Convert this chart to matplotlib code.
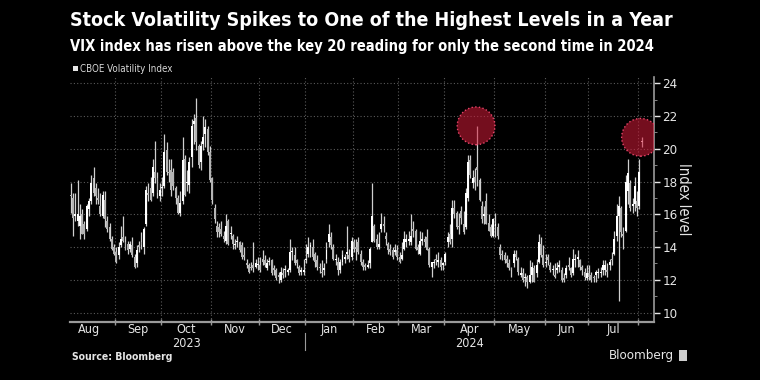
"""
VIX daily candles, Aug 2023 - Aug 2024 (Bloomberg style, black background)
"""
import numpy as np
import pandas as pd
import matplotlib
matplotlib.use('Agg')
import matplotlib.pyplot as plt
import matplotlib.transforms as mtransforms
from matplotlib.patches import Rectangle
from matplotlib.ticker import FixedLocator, MultipleLocator

plt.rcParams['font.family'] = ['DejaVu Sans']
plt.rcParams['font.stretch'] = 'condensed'

### Trading calendar (NYSE holidays in the span)
holidays = ['2023-09-04', '2023-11-23', '2023-12-25', '2024-01-01', '2024-01-15',
            '2024-02-19', '2024-03-29', '2024-05-27', '2024-06-19', '2024-07-04']
first_day = '2023-08-04'
highlight_days = ['2024-04-19', '2024-08-02']

### Daily OHLC, one row per month (Aug 4 2023 .. Aug 2 2024)
vix_open = [
    17.2, 17.0, 15.9, 15.6, 15.3, 16.0, 15.4, 15.1, 16.3, 16.8, 18.2, 17.6, 17.0, 16.5, 15.9, 16.9, 15.6, 15.2, 14.5, 14.0,
    13.7, 13.5, 14.1, 14.6, 14.3, 14.2, 13.9, 14.1, 13.4, 13.0, 14.1, 14.3, 14.0, 15.4, 17.3, 17.6, 17.3, 18.6, 18.2, 17.1,
    17.6, 17.7, 19.9, 18.6, 18.7, 18.6, 17.6, 17.0, 16.1, 16.8, 19.4, 17.9, 17.8, 19.5, 21.5, 21.9, 20.2, 19.2, 20.3, 20.9, 21.2, 19.8,
    18.2, 16.4, 15.3, 15.2, 15.1, 14.7, 14.4, 15.6, 14.8, 14.7, 14.1, 14.3, 14.3, 14.1, 13.5, 13.0, 12.9, 12.8, 12.9, 12.8, 12.9,
    12.9, 13.3, 13.2, 12.7, 13.1, 13.2, 12.7, 12.6, 12.3, 12.0, 12.4, 12.6, 12.5, 12.6, 13.7, 13.5, 13.2, 12.8, 12.5, 12.5,
    13.2, 13.6, 14.0, 14.0, 13.6, 13.2, 12.8, 12.5, 12.6, 13.3, 14.3, 14.6, 14.0, 13.2, 13.1, 12.6, 13.1, 13.3, 13.6, 13.5, 13.4,
    14.3, 14.0, 14.3, 13.6, 13.1, 12.9, 12.8, 13.0, 14.3, 15.3, 14.5, 14.0, 15.1, 15.4, 14.7, 14.2, 13.9, 13.8, 13.7, 13.8,
    13.4, 13.3, 13.9, 14.3, 14.4, 14.3, 15.1, 15.0, 14.0, 13.6, 14.4, 14.5, 14.6, 13.9, 12.8, 13.0, 13.3, 13.1, 13.2, 12.9,
    13.1, 14.3, 14.8, 14.5, 16.4, 16.1, 15.3, 16.2, 15.4, 15.2, 17.0, 19.3, 17.9, 18.3, 18.9, 18.1, 16.5, 15.9, 16.8, 15.5, 15.2, 14.7,
    15.3, 15.2, 14.0, 13.6, 13.5, 13.3, 13.0, 12.7, 13.0, 13.6, 13.3, 12.3, 12.4, 12.1, 12.2, 11.9, 12.3, 12.7, 12.4, 13.1, 14.2, 13.5,
    13.0, 13.4, 12.9, 12.6, 12.3, 12.6, 12.8, 12.6, 12.1, 12.3, 12.9, 12.7, 12.4, 13.2, 13.3, 13.2, 12.8, 12.5, 12.1,
    12.4, 12.3, 12.2, 12.3, 12.4, 12.4, 12.6, 12.6, 12.6, 12.9, 13.3, 13.6, 14.7, 15.9, 16.4, 14.8, 15.0, 17.4, 17.9, 16.5, 16.6, 16.8,
    16.5, 20.4]
vix_high = [
    17.9, 17.3, 17.3, 18.1, 16.6, 16.3, 15.6, 16.6, 17.0, 18.4, 18.9, 17.9, 17.6, 17.3, 17.4, 17.4, 15.9, 15.5, 14.7, 14.2,
    14.0, 14.3, 15.3, 15.9, 14.7, 14.4, 14.4, 14.6, 13.6, 14.1, 14.4, 14.9, 15.2, 17.7, 17.9, 18.3, 19.4, 20.5, 18.6, 17.9,
    18.3, 20.9, 20.4, 19.4, 19.4, 18.8, 17.7, 17.2, 17.4, 20.7, 19.6, 18.7, 19.5, 21.8, 22.1, 23.1, 20.3, 20.5, 22.0, 21.8, 21.4, 20.2,
    18.3, 16.6, 15.6, 15.5, 15.6, 15.0, 16.0, 15.7, 15.3, 14.8, 14.5, 14.7, 14.4, 14.3, 14.0, 13.3, 13.0, 13.1, 14.3, 13.3, 13.4,
    13.4, 13.8, 13.5, 13.3, 13.4, 13.3, 12.9, 12.7, 12.5, 12.8, 12.7, 12.9, 12.7, 14.5, 14.0, 14.0, 13.3, 12.9, 12.8, 13.3,
    14.2, 14.6, 14.3, 14.5, 13.7, 13.5, 13.0, 13.2, 13.0, 14.3, 15.4, 14.9, 14.2, 13.6, 13.4, 13.3, 13.8, 13.6, 15.3, 13.9, 14.6,
    14.5, 14.5, 14.6, 13.8, 13.3, 13.0, 13.2, 14.0, 17.9, 15.4, 14.8, 14.9, 16.1, 15.9, 14.9, 14.3, 14.2, 14.0, 14.2, 14.1,
    13.7, 14.3, 15.0, 14.8, 15.0, 16.0, 15.6, 15.1, 14.2, 15.0, 14.9, 14.7, 15.1, 14.0, 13.1, 13.3, 13.6, 13.7, 13.4, 13.1,
    13.7, 14.9, 15.4, 16.9, 16.9, 16.2, 16.1, 16.5, 16.2, 17.6, 19.6, 19.6, 18.7, 18.8, 21.4, 18.2, 16.8, 16.5, 17.3, 16.0, 15.4, 15.8,
    16.1, 15.5, 14.2, 13.8, 13.7, 13.5, 13.3, 12.8, 13.8, 13.8, 13.4, 12.8, 12.7, 12.4, 12.3, 13.2, 13.1, 12.9, 13.3, 14.8, 14.6, 14.1,
    13.6, 13.6, 13.1, 12.9, 13.0, 13.1, 13.2, 12.8, 12.4, 12.9, 13.4, 12.8, 13.9, 13.6, 13.8, 13.3, 12.9, 12.7, 12.9,
    12.9, 12.5, 12.3, 12.6, 12.7, 12.8, 13.2, 13.2, 13.0, 13.3, 13.7, 15.0, 16.6, 17.1, 16.5, 15.2, 18.4, 19.4, 18.1, 17.0, 18.3, 17.4,
    19.4, 20.7]
vix_low = [
    16.1, 14.7, 15.6, 15.3, 14.5, 14.8, 14.5, 15.0, 15.9, 16.6, 17.1, 16.6, 16.6, 15.9, 15.8, 15.2, 14.9, 14.4, 13.8, 13.5,
    13.0, 13.3, 14.0, 14.3, 13.8, 13.6, 13.7, 13.4, 12.7, 12.8, 13.7, 13.9, 13.6, 15.3, 16.8, 16.8, 17.1, 17.9, 17.0, 16.8,
    17.1, 17.6, 18.4, 18.0, 17.1, 17.5, 16.6, 16.0, 15.9, 16.6, 17.1, 17.4, 17.3, 18.9, 20.3, 19.9, 18.8, 18.7, 19.9, 20.1, 19.6, 18.0,
    16.6, 15.5, 14.6, 14.6, 14.7, 14.3, 14.2, 14.1, 14.5, 13.9, 13.9, 14.0, 13.7, 13.3, 13.2, 12.7, 12.4, 12.6, 12.5, 12.7, 12.6,
    12.5, 12.9, 12.8, 12.6, 12.9, 12.3, 12.3, 12.0, 11.8, 11.9, 12.1, 12.2, 12.3, 12.5, 13.2, 12.9, 12.7, 12.3, 12.3, 12.3,
    13.0, 13.4, 13.4, 13.2, 12.8, 12.6, 12.4, 12.2, 12.3, 13.0, 14.0, 13.9, 13.2, 12.9, 12.3, 12.4, 12.9, 13.0, 13.3, 13.1, 13.2,
    13.7, 13.2, 13.6, 12.9, 12.6, 12.6, 12.7, 12.7, 14.3, 14.3, 13.9, 13.9, 14.9, 14.9, 14.1, 13.6, 13.5, 13.3, 13.5, 13.2,
    13.0, 13.2, 13.8, 14.0, 14.1, 14.1, 14.6, 13.8, 13.6, 13.5, 14.1, 14.0, 13.8, 12.8, 12.2, 12.7, 12.9, 12.8, 12.6, 12.6,
    12.9, 14.0, 14.2, 14.0, 15.8, 15.1, 14.8, 15.4, 14.8, 15.1, 16.8, 18.2, 17.6, 17.5, 17.7, 16.8, 15.5, 15.4, 15.4, 15.0, 14.6, 14.6,
    14.6, 14.5, 13.3, 13.2, 13.0, 12.8, 12.6, 12.2, 12.8, 13.2, 12.3, 12.2, 11.9, 11.6, 11.5, 11.8, 11.9, 11.9, 12.2, 13.0, 13.4, 12.8,
    12.8, 12.9, 12.5, 12.3, 12.1, 12.4, 12.5, 11.9, 11.9, 12.1, 12.6, 12.2, 12.3, 12.8, 12.8, 12.6, 12.3, 12.0, 12.0,
    12.0, 11.9, 11.9, 11.9, 12.1, 12.2, 12.3, 12.3, 12.2, 12.6, 12.9, 13.5, 14.4, 10.7, 14.6, 13.9, 14.9, 16.6, 16.2, 16.1, 16.2, 15.9,
    16.3, 20.1]
vix_close = [
    17.1, 15.8, 16.0, 16.0, 15.9, 14.8, 14.8, 16.5, 16.8, 17.9, 17.3, 17.1, 16.9, 16.0, 17.2, 15.7, 15.1, 14.5, 13.9, 13.6,
    13.1, 14.0, 14.5, 14.4, 13.8, 13.8, 14.2, 13.5, 12.8, 13.8, 14.0, 14.1, 15.1, 17.5, 17.2, 16.9, 18.9, 18.2, 17.3, 17.5,
    17.6, 19.8, 18.6, 18.5, 17.5, 17.7, 17.0, 16.1, 16.7, 19.3, 17.2, 17.9, 19.2, 21.4, 21.7, 20.4, 19.0, 20.2, 20.7, 21.3, 19.8, 18.1,
    16.9, 15.7, 14.9, 14.9, 14.8, 14.5, 15.3, 14.2, 14.8, 14.2, 14.2, 14.3, 13.8, 13.4, 13.4, 12.9, 12.5, 12.7, 12.7, 13.0, 12.9,
    12.6, 13.1, 12.9, 13.0, 13.1, 12.4, 12.6, 12.1, 12.2, 12.5, 12.3, 12.6, 12.5, 13.7, 13.7, 13.0, 13.0, 12.4, 12.5, 12.5,
    13.2, 14.0, 14.1, 13.4, 13.1, 12.8, 12.7, 12.4, 12.7, 13.8, 14.8, 14.1, 13.3, 13.2, 12.6, 13.1, 13.5, 13.3, 13.6, 13.3, 14.4,
    13.9, 13.9, 13.7, 13.1, 12.8, 12.8, 12.9, 13.9, 15.9, 14.4, 14.0, 14.2, 15.4, 15.3, 14.5, 13.8, 13.7, 13.4, 13.8, 13.4,
    13.1, 13.5, 14.5, 14.5, 14.4, 14.7, 15.0, 13.9, 13.8, 14.4, 14.4, 14.3, 13.8, 12.9, 13.1, 13.1, 13.2, 13.2, 12.8, 13.0,
    13.6, 14.6, 14.3, 16.4, 16.0, 15.2, 15.2, 15.8, 14.9, 17.3, 19.2, 18.4, 18.2, 18.0, 18.7, 16.9, 15.7, 16.0, 15.4, 15.0, 14.7, 15.7,
    15.4, 14.7, 13.5, 13.5, 13.2, 13.0, 12.7, 12.6, 13.6, 13.4, 12.5, 12.4, 12.0, 12.2, 11.9, 12.3, 12.8, 11.9, 12.9, 14.3, 13.5, 12.9,
    13.1, 13.2, 12.6, 12.6, 12.2, 12.7, 12.9, 12.0, 12.0, 12.7, 12.8, 12.3, 13.3, 13.2, 13.3, 12.8, 12.6, 12.2, 12.4,
    12.2, 12.0, 12.1, 12.5, 12.4, 12.5, 12.9, 12.9, 12.5, 13.1, 13.2, 14.5, 15.9, 16.5, 14.9, 14.7, 18.0, 18.5, 16.4, 16.6, 17.7, 16.4,
    18.6, 20.5]

month_names = ['Aug', 'Sep', 'Oct', 'Nov', 'Dec', 'Jan', 'Feb', 'Mar', 'Apr', 'May', 'Jun', 'Jul']
year_labels = {'2023': 'Oct', '2024': 'Apr'}

title = 'Stock Volatility Spikes to One of the Highest Levels in a Year'
subtitle = 'VIX index has risen above the key 20 reading for only the second time in 2024'


def main():
    days = pd.bdate_range('2023-08-01', '2024-08-02', freq='C', holidays=holidays)
    i0 = days.get_loc(pd.Timestamp(first_day))
    op, hi, lo, cl = [np.asarray(a) for a in (vix_open, vix_high, vix_low, vix_close)]
    xx = np.arange(i0, i0 + len(cl))

    ### month boundaries / centres on the trading-day axis
    per = days.to_period('M')
    months = per.unique()
    starts = np.array([np.where(per == p)[0][0] for p in months])
    ends = np.array([np.where(per == p)[0][-1] for p in months])
    bounds = starts[1:] - 0.5
    centers = (starts + ends) / 2.0

    fig = plt.figure(figsize=(7.6, 3.8), dpi=100)
    fig.patch.set_facecolor('black')
    ax = fig.add_axes([70/760, 58/380, 584/760, 245/380])
    ax.set_facecolor('black')

    ### grid
    for b in bounds:
        ax.axvline(b, color='#5a5a5a', lw=0.8, ls=(0, (1, 2)), zorder=0)
    for yv in range(10, 25, 2):
        ax.axhline(yv, color='#5a5a5a', lw=0.8, ls=(0, (1, 2)), zorder=0)

    ### candles
    up = cl >= op
    ax.vlines(xx, lo, hi, color='#cfcfcf', lw=0.9, zorder=2)
    body_lo = np.minimum(op, cl)
    body_h = np.maximum(np.abs(cl - op), 0.08)
    ax.bar(xx[up], body_h[up], bottom=body_lo[up], width=0.85, color='#ffffff', lw=0, zorder=3)
    ax.bar(xx[~up], body_h[~up], bottom=body_lo[~up], width=0.85, color='#b4b4b4', lw=0, zorder=3)

    ### highlight circles on the two spikes
    for d in highlight_days:
        k = days.get_loc(pd.Timestamp(d)) - i0
        ax.scatter(xx[k] - 0.5, hi[k], s=740, facecolor=(0.83, 0.10, 0.22, 0.55),
                   edgecolor='#e8456a', linewidths=1.0, linestyles=':', zorder=5)

    ax.set_xlim(i0 - 0.3, 258.4)
    ax.set_ylim(9.43, 24.38)

    ### axes styling
    for s in ['left', 'top']:
        ax.spines[s].set_visible(False)
    ax.spines['bottom'].set_color('#9a9a9a')
    ax.spines['bottom'].set_linewidth(1.6)
    ax.spines['right'].set_color('#9a9a9a')
    ax.spines['right'].set_linewidth(1.2)

    ax.yaxis.tick_right()
    ax.yaxis.set_major_locator(MultipleLocator(2))
    ax.yaxis.set_minor_locator(MultipleLocator(1))
    ax.tick_params(axis='y', which='major', colors='#e6e6e6', labelsize=9.5, length=4, width=1, pad=2)
    ax.tick_params(axis='y', which='minor', colors='#9a9a9a', length=2)
    ax.set_ylabel('Index level', color='#e6e6e6', fontsize=10.5, rotation=270, labelpad=10)
    ax.yaxis.set_label_position('right')

    ax.xaxis.set_major_locator(FixedLocator(bounds))
    ax.xaxis.set_minor_locator(FixedLocator(centers[:len(month_names)]))
    ax.xaxis.set_major_formatter(plt.NullFormatter())
    ax.set_xticklabels(month_names, minor=True)
    ax.tick_params(axis='x', which='major', colors='#9a9a9a', direction='inout', length=4, width=1)
    ax.tick_params(axis='x', which='minor', colors='#e6e6e6', length=0, labelsize=9, pad=0.5)

    ### year labels and separator
    trans = mtransforms.blended_transform_factory(ax.transData, ax.transAxes)
    for yr, mon in year_labels.items():
        ax.text(centers[month_names.index(mon)], -0.087, yr, transform=trans,
                ha='center', va='center', color='#e6e6e6', fontsize=9)
    jan = bounds[month_names.index('Jan') - 1]
    ax.plot([jan, jan], [-0.045, -0.115], transform=trans, color='#9a9a9a', lw=0.8, clip_on=False)

    ### titles, legend, footer
    fig.text(70/760, 1-20/380, title, color='white', fontsize=14, weight='bold', va='center')
    fig.text(70/760, 1-46/380, subtitle, color='white', fontsize=10.5, weight='bold', va='center')
    fig.patches.append(Rectangle((73/760, 1-71/380), 5/760, 5/380, transform=fig.transFigure,
                                 facecolor='#e6e6e6', edgecolor='none'))
    fig.text(80/760, 1-68.5/380, 'CBOE Volatility Index', color='#d9d9d9', fontsize=7, va='center')
    fig.text(72/760, 1-357/380, 'Source: Bloomberg', color='#e6e6e6', fontsize=7.5, weight='bold', va='center')
    fig.text(674/760, 1-355/380, 'Bloomberg', color='#e6e6e6', fontsize=9.5, va='center', ha='right')
    fig.patches.append(Rectangle((679/760, 1-361/380), 8/760, 11/380, transform=fig.transFigure,
                                 facecolor='#cfcfcf', edgecolor='none'))

    fig.savefig('out.png', dpi=100, facecolor='black')
    return


if __name__ == "__main__":
    main()
